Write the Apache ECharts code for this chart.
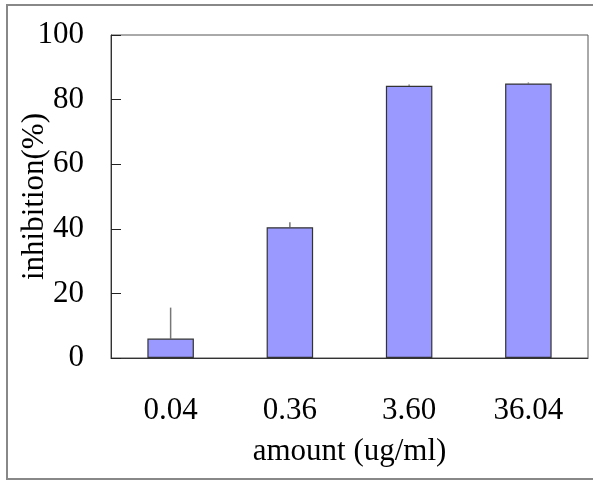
<!DOCTYPE html>
<html>
<head>
<meta charset="utf-8">
<script src="https://cdn.jsdelivr.net/npm/echarts@6/dist/echarts.min.js"></script>
<style>
html,body{margin:0;padding:0;background:#fff;}
#c{width:593px;height:482px;}
</style>
</head>
<body>
<div id="c"></div>
<script>
var categories = ['0.04', '0.36', '3.60', '36.04'];
var inhibition = [6.0, 40.5, 84.3, 85.0];
var errors = [9.6, 1.5, 0.4, 0.3];
var yTicks = [0, 20, 40, 60, 80, 100];

var chart = echarts.init(document.getElementById('c'), null, {renderer: 'canvas'});
var font = 'Liberation Serif';
chart.setOption({
  backgroundColor: '#fff',
  animation: false,
  graphic: [{
    type: 'rect',
    shape: {x: 7, y: 5, width: 610, height: 474},
    style: {fill: 'none', stroke: '#888', lineWidth: 2},
    z: 100
  }],
  grid: {left: 111, right: 5, top: 35, bottom: 124, containLabel: false, outerBoundsMode: 'none', show: true, borderColor: '#555', borderWidth: 1, backgroundColor: 'transparent'},
  xAxis: {
    type: 'category',
    data: categories,
    name: 'amount (ug/ml)',
    nameLocation: 'middle',
    nameGap: 78,
    nameMoveOverlap: false,
    nameTextStyle: {fontFamily: font, fontSize: 31, color: '#000'},
    axisLine: {lineStyle: {color: '#333', width: 1}},
    axisTick: {inside: true, length: 12, lineStyle: {color: '#222'}},
    axisLabel: {fontFamily: font, fontSize: 31, color: '#000', margin: 37},
    splitLine: {show: false}
  },
  yAxis: {
    type: 'value',
    min: yTicks[0],
    max: yTicks[yTicks.length - 1],
    interval: 20,
    name: 'inhibition(%)',
    nameLocation: 'middle',
    nameGap: 61,
    nameMoveOverlap: false,
    nameRotate: 90,
    nameTextStyle: {fontFamily: font, fontSize: 31, color: '#000'},
    axisLine: {show: true, lineStyle: {color: '#333', width: 1}},
    axisTick: {show: true, inside: true, length: 10, lineStyle: {color: '#222'}},
    axisLabel: {fontFamily: font, fontSize: 31, color: '#000', margin: 27},
    splitLine: {show: false}
  },
  series: [{
    type: 'bar',
    data: inhibition,
    barWidth: '39%',
    itemStyle: {color: '#9999FF', borderColor: '#333', borderWidth: 1.2}
  }, {
    type: 'custom',
    z: 1,
    data: inhibition.map(function (v, i) { return [i, v, v + errors[i]]; }),
    renderItem: function (params, api) {
      var p0 = api.coord([api.value(0), api.value(1)]);
      var p1 = api.coord([api.value(0), api.value(2)]);
      return {
        type: 'line',
        shape: {x1: p0[0], y1: p0[1], x2: p1[0], y2: p1[1]},
        style: {stroke: '#777', lineWidth: 1.5}
      };
    }
  }]
});
</script>
</body>
</html>
